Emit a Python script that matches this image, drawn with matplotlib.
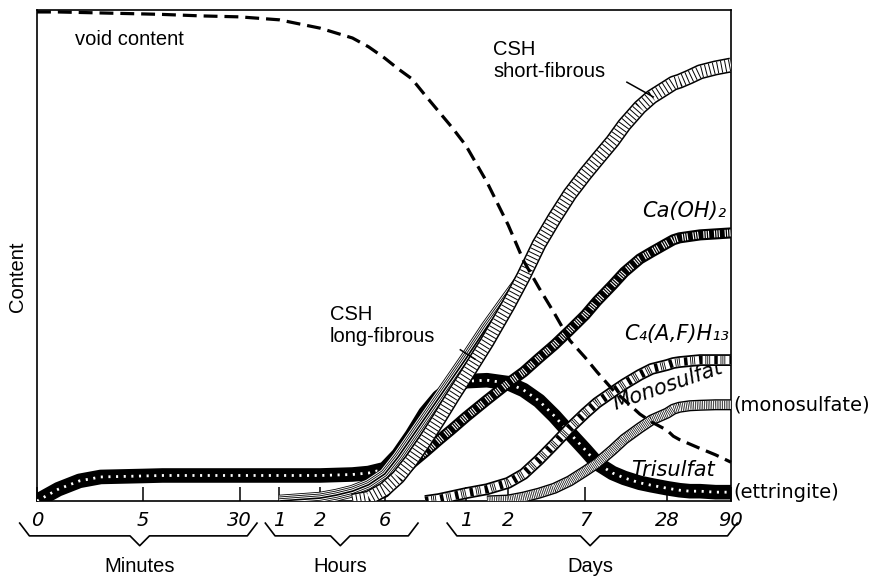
import numpy as np
import matplotlib
matplotlib.use('Agg')
import matplotlib.pyplot as plt

plt.rcParams['font.family'] = ['Liberation Sans', 'DejaVu Sans']
plt.rcParams['lines.scale_dashes'] = False

nan = np.nan
H = 60
D = 24 * H

# time axis (minutes), stretched piecewise: minutes | hours | days
tick_t = [0, 5, 30, 1*H, 2*H, 6*H, 1*D, 2*D, 7*D, 28*D, 90*D]
tick_lbl = ['0', '5', '30', '1', '2', '6', '1', '2', '7', '28', '90']
tick_pos = [0, 0.153, 0.292, 0.349, 0.408, 0.501, 0.618, 0.679, 0.790, 0.908, 1.0]

t = [0, 1, 2, 3, 5, 10, 20, 30,
     1*H, 2*H, 3*H, 4*H, 5*H, 6*H, 9*H, 12*H, 15*H, 18*H, 21*H,
     1*D, 1.5*D, 2*D, 3*D, 4*D, 5*D, 6*D, 7*D, 10*D, 14*D, 17*D, 21*D, 24*D, 28*D,
     34*D, 40*D, 50*D, 60*D, 75*D, 90*D]

# content, % of full scale
void = [99.6, 99.6, 99.5, 99.4, 99.2, 99.1, 98.8, 98.6, 98.0, 96.3, 95.3, 94.3, 92.5, 90.2,
        88.0, 86.0, 82.6, 79.3, 76.0, 72.4, 64.9, 56.2, 48.9, 43.4, 38.2, 32.7, 29.2, 26.3,
        22.7, 20.6, 17.7, 16.1, 14.4, 13.2, 12.5, 11.6, 10.7, 9.4, 7.9]
trisulfat = [0, 2.4, 4.1, 4.9, 5.1, 5.2, 5.2, 5.2, 5.2, 5.2, 5.3, 5.4, 5.7, 6.5, 9.4, 13.4,
             17.9, 21.2, 23.2, 24.4, 24.6, 24.0, 22.6, 20.4, 17.3, 13.8, 10.4, 7.7, 5.7, 4.7,
             3.7, 3.2, 2.6, 2.4, 2.2, 2.0, 2.0, 1.8, 1.8]
caoh2 = [nan]*11 + [0, 0.5, 1.8, 4.9, 7.7, 10.0, 12.4, 14.7, 17.1, 20.6, 24.0, 26.3, 29.1,
                    31.8, 34.8, 37.9, 40.7, 44.0, 46.6, 49.3, 50.7, 52.5, 53.2, 53.6, 53.9,
                    54.2, 54.4, 54.6]
c4afh13 = [nan]*16 + [0, 0.4, 1.0, 1.6, 2.4, 3.7, 5.5, 8.4, 11.6, 14.9, 17.9, 20.0, 22.2,
                      23.8, 25.7, 26.9, 27.7, 28.1, 28.3, 28.5, 28.7, 28.7, 28.7]
monosulfat = [nan]*20 + [0, 0.2, 0.8, 1.6, 2.6, 4.1, 6.1, 7.7, 10.4, 12.6, 14.9, 16.5,
                         17.9, 18.7, 19.1, 19.4, 19.5, 19.6, 19.6]
csh_short = [nan]*11 + [0, 0.6, 2.4, 4.9, 8.4, 12.4, 16.7, 21.2, 25.5, 32.4, 39.9, 45.8,
                        52.3, 57.6, 62.5, 66.6, 69.5, 73.3, 76.6, 80.2, 82.3, 84.3, 85.1,
                        85.5, 86.4, 87.4, 88.2, 88.8]
csh_long = [nan]*8 + [0, 0.6, 1.2, 2.0, 3.3, 5.5, 9.0, 13.0, 17.0, 21.0, 25.0, 29.0,
                      35.5, 41.5, 45.8] + [nan]*16


def fwd(x):
    return np.interp(x, tick_t, tick_pos)


def inv(p):
    return np.interp(p, tick_pos, tick_t)


fig = plt.figure(figsize=(8.69, 5.78), dpi=100)
ax = fig.add_axes([0.0426, 0.1332, 0.7986, 0.8495])
ax.set_xscale('function', functions=(fwd, inv))
ax.set_xlim(0, 90*D)
ax.set_ylim(0, 100)


def ribbon(y, layers, z):
    # stack of lines: (colour, width, dash pattern) drawn wide to narrow
    for color, lw, dashes in layers:
        ln, = ax.plot(t, y, color=color, lw=lw, solid_capstyle='butt',
                      dash_capstyle='butt', solid_joinstyle='round', zorder=z)
        if dashes:
            ln.set_dashes(dashes)


ribbon(trisulfat, [('k', 10.5, None), ('w', 2.0, (1.5, 4.0))], 3)
ribbon(c4afh13, [('k', 8.5, None), ('w', 6.0, None),
                 ('k', 6.0, (2.5, 2.0, 0.6, 0.8, 0.6, 0.8, 0.6, 3.0))], 4)
ribbon(monosulfat, [('k', 8.0, None), ('w', 6.0, None), ('k', 6.0, (0.5, 0.8))], 4)
ribbon(caoh2, [('k', 8.0, None), ('w', 5.0, (0.8, 0.9, 0.8, 0.9, 0.8, 3.5))], 5)
ribbon(csh_long, [('k', 9.0, None), ('w', 7.8, None), ('k', 6.4, None), ('w', 5.2, None),
                  ('k', 3.8, None), ('w', 2.6, None), ('k', 1.2, None)], 6)
ribbon(csh_short, [('k', 10.8, None), ('w', 8.6, None), ('k', 8.6, (0.7, 2.2))], 7)

ln, = ax.plot(t, void, color='k', lw=2.3, dash_capstyle='butt', zorder=8, clip_on=False)
ln.set_dashes((10, 5))

for s in ax.spines.values():
    s.set_linewidth(1.2)
ax.set_yticks([])
ax.set_xticks(tick_t)
ax.set_xticklabels(tick_lbl, fontsize=14, fontstyle='italic', family='DejaVu Sans')
ax.tick_params(axis='x', direction='in', length=10, width=1.1, pad=7)
ax.set_ylabel('Content', fontsize=14.5)
ax.yaxis.set_label_coords(-0.014, 0.456)


def brace(x0, x1, xm):
    d = 0.014
    xs = [x0, x0 + d, xm - d, xm, xm + d, x1 - d, x1]
    ys = [-0.045, -0.071, -0.071, -0.091, -0.071, -0.071, -0.045]
    ax.plot(xs, ys, transform=ax.transAxes, clip_on=False, color='k', lw=1.2)


for x0, x1, xm, name in [(-0.025, 0.317, 0.148, 'Minutes'),
                         (0.329, 0.549, 0.437, 'Hours'),
                         (0.591, 1.009, 0.797, 'Days')]:
    brace(x0, x1, xm)
    ax.text(xm, -0.134, name, transform=ax.transAxes, ha='center', va='center',
            fontsize=14.5)

ax.text(0.055, 0.939, 'void content', transform=ax.transAxes, fontsize=14.5, va='center')
ax.text(0.657, 0.898, 'CSH\nshort-fibrous', transform=ax.transAxes, fontsize=14.5,
        va='center', linespacing=1.2)
ax.text(0.422, 0.358, 'CSH\nlong-fibrous', transform=ax.transAxes, fontsize=14.5,
        va='center', linespacing=1.2)
ax.plot([0.850, 0.888], [0.853, 0.823], transform=ax.transAxes, color='k', lw=1.1, zorder=9)
ax.plot([0.610, 0.631], [0.308, 0.289], transform=ax.transAxes, color='k', lw=1.1, zorder=9)

ital = dict(transform=ax.transAxes, fontsize=15, fontstyle='italic', family='DejaVu Sans',
            va='center')
ax.text(0.993, 0.590, 'Ca(OH)₂', ha='right', **ital)
ax.text(0.997, 0.340, 'C₄(A,F)H₁₃', ha='right', **ital)
ax.text(0.909, 0.236, 'Monosulfat', ha='center', rotation=19, **ital)
ax.text(0.916, 0.063, 'Trisulfat', ha='center', **ital)

ax.text(1.003, 0.196, '(monosulfate)', transform=ax.transAxes, fontsize=14,
        family='DejaVu Sans', va='center')
ax.text(1.003, 0.018, '(ettringite)', transform=ax.transAxes, fontsize=14,
        family='DejaVu Sans', va='center')

fig.savefig('out.png', dpi=100)
